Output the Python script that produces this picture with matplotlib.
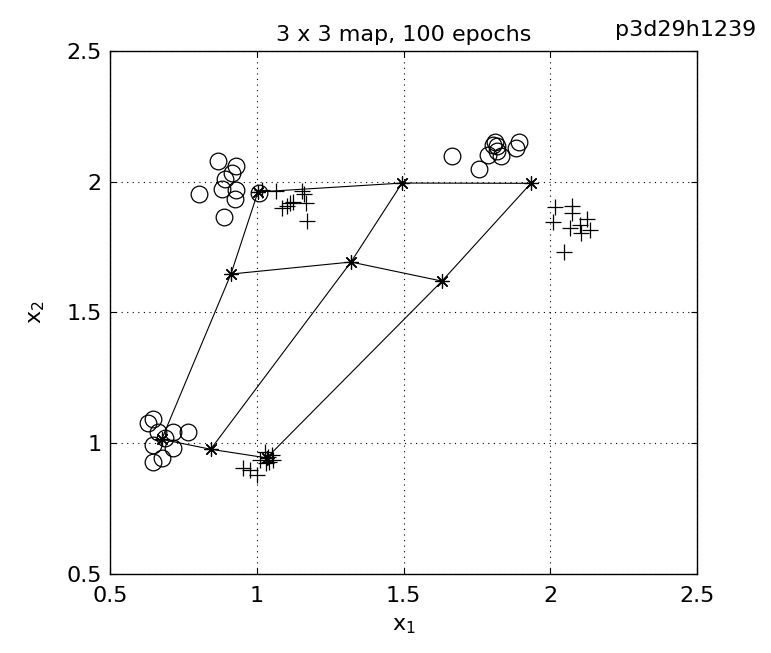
import numpy as np
import matplotlib.pyplot as plt

plt.rcParams['font.family'] = 'DejaVu Sans'
plt.rcParams['mathtext.default'] = 'regular'

# map nodes (3 x 3), rows from top to bottom
node_x = [[1.004, 1.495, 1.934],
          [0.912, 1.321, 1.631],
          [0.676, 0.843, 1.034]]
node_y = [[1.961, 1.995, 1.994],
          [1.647, 1.693, 1.620],
          [1.015, 0.977, 0.944]]

# class o samples
circ_x = [0.868, 0.929, 0.915, 0.893, 0.882, 0.929, 0.927, 0.803, 0.888, 1.008,
          1.664, 1.758, 1.789, 1.812, 1.818, 1.818, 1.831, 1.883, 1.895, 1.806,
          0.648, 0.630, 0.665, 0.716, 0.767, 0.687, 0.648, 0.716, 0.676, 0.648]
circ_y = [2.078, 2.060, 2.032, 2.009, 1.971, 1.968, 1.933, 1.952, 1.866, 1.956,
          2.100, 2.049, 2.102, 2.153, 2.137, 2.119, 2.098, 2.128, 2.153, 2.141,
          1.092, 1.076, 1.044, 1.044, 1.044, 1.019, 0.993, 0.981, 0.942, 0.929]

# class + samples
plus_x = [1.066, 1.085, 1.102, 1.113, 1.125, 1.155, 1.161, 1.168, 1.172, 1.017,
          2.016, 2.073, 2.073, 2.010, 2.067, 2.101, 2.126, 2.104, 2.135, 2.048,
          0.954, 0.977, 1.000, 1.028, 1.039, 1.051, 1.043, 1.056, 1.032, 1.011]
plus_y = [1.965, 1.898, 1.908, 1.920, 1.923, 1.966, 1.953, 1.918, 1.850, 1.968,
          1.905, 1.907, 1.882, 1.847, 1.824, 1.835, 1.856, 1.803, 1.815, 1.733,
          0.904, 0.898, 0.879, 0.968, 0.949, 0.955, 0.929, 0.936, 0.923, 0.936]

fig = plt.figure(figsize=(7.71, 6.53), dpi=100)
ax = fig.add_axes([0.1427, 0.121, 0.7613, 0.8009])

ax.plot(circ_x, circ_y, 'o', mfc='none', mec='k', ms=12, mew=0.9)
ax.plot(plus_x, plus_y, '+', color='k', ms=12, mew=0.9)

nx = np.array(node_x)
ny = np.array(node_y)
star = (8, 2, 0)
for i in range(3):
    ax.plot(nx[i, :], ny[i, :], '-', color='k', lw=0.8, marker=star, ms=10, mew=0.8)
    ax.plot(nx[:, i], ny[:, i], '-', color='k', lw=0.8, marker=star, ms=10, mew=0.8)

ax.set_xlim(0.5, 2.5)
ax.set_ylim(0.5, 2.5)
ax.set_xticks([0.5, 1, 1.5, 2, 2.5])
ax.set_yticks([0.5, 1, 1.5, 2, 2.5])
ax.set_xticklabels(['0.5', '1', '1.5', '2', '2.5'])
ax.set_yticklabels(['0.5', '1', '1.5', '2', '2.5'])
ax.tick_params(direction='in', top=True, right=True, length=4, width=0.8,
               labelsize=16)
ax.tick_params(axis='x', pad=9)
ax.tick_params(axis='y', pad=6)
ax.grid(True, color='k', ls=(0, (1, 4)), lw=0.8)
for s in ax.spines.values():
    s.set_linewidth(1.0)

ax.set_xlabel('x$_1$', fontsize=16, labelpad=7)
ax.set_ylabel('x$_2$', fontsize=16, labelpad=14)
ax.set_title('3 x 3 map, 100 epochs', fontsize=16, pad=7)
fig.text(756 / 771, 1 - 36 / 653, 'p3d29h1239', fontsize=16, ha='right',
         va='baseline')

fig.savefig('out.png', dpi=100)
